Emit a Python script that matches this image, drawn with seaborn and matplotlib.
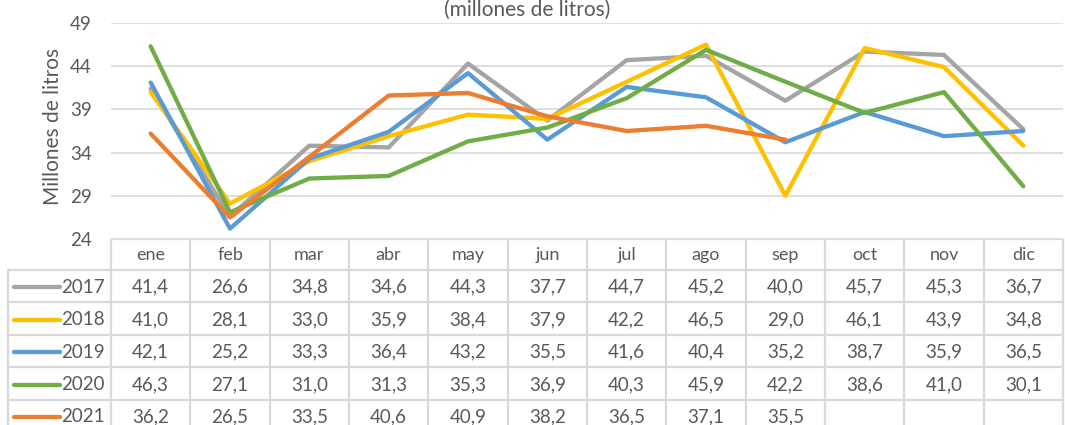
import numpy as np
import pandas as pd
import matplotlib
matplotlib.use('Agg')
import matplotlib.pyplot as plt
import seaborn as sns

# Datos (millones de litros)
meses = ['ene', 'feb', 'mar', 'abr', 'may', 'jun', 'jul', 'ago', 'sep', 'oct', 'nov', 'dic']
anios = ['2017', '2018', '2019', '2020', '2021']
v2017 = [41.4, 26.6, 34.8, 34.6, 44.3, 37.7, 44.7, 45.2, 40.0, 45.7, 45.3, 36.7]
v2018 = [41.0, 28.1, 33.0, 35.9, 38.4, 37.9, 42.2, 46.5, 29.0, 46.1, 43.9, 34.8]
v2019 = [42.1, 25.2, 33.3, 36.4, 43.2, 35.5, 41.6, 40.4, 35.2, 38.7, 35.9, 36.5]
v2020 = [46.3, 27.1, 31.0, 31.3, 35.3, 36.9, 40.3, 45.9, 42.2, 38.6, 41.0, 30.1]
v2021 = [36.2, 26.5, 33.5, 40.6, 40.9, 38.2, 36.5, 37.1, 35.5, np.nan, np.nan, np.nan]
yticks = [24, 29, 34, 39, 44, 49]
colores = ['#A5A5A5', '#FFC000', '#5B9BD5', '#70AD47', '#ED7D31']

series = [v2017, v2018, v2019, v2020, v2021]
df = pd.DataFrame({
    'mes': meses * len(anios),
    'x': list(range(len(meses))) * len(anios),
    'anio': [a for a in anios for _ in meses],
    'valor': [v for s in series for v in s],
})

sns.set_style('white')
plt.rcParams['font.family'] = ['Lato', 'DejaVu Sans']
gris = '#595959'
linea = '#D9D9D9'

W, H = 1065, 425
fig = plt.figure(figsize=(W / 100, H / 100), dpi=100)

# area del grafico (en pixeles de la figura)
x0, x1 = 111, 1063
ytop, ybot = 23, 239
ax = fig.add_axes([x0 / W, 1 - ybot / H, (x1 - x0) / W, (ybot - ytop) / H])
sns.lineplot(data=df.dropna(), x='x', y='valor', hue='anio', palette=colores,
             hue_order=anios, estimator=None, sort=False, linewidth=3.1,
             legend=False, ax=ax)
ax.set_xlim(-0.5, len(meses) - 0.5)
ax.set_ylim(yticks[0], yticks[-1])
ax.set_yticks(yticks)
ax.set_yticklabels([str(t) for t in yticks], fontsize=13.5, color=gris)
ax.set_xticks([])
ax.set_xlabel('')
ax.set_ylabel('Millones de litros', fontsize=15, color=gris)
ax.yaxis.set_label_coords(-48 / (x1 - x0), 0.52)
ax.tick_params(axis='y', length=0, pad=14)
ax.grid(axis='y', color=linea, linewidth=1.2)
ax.set_axisbelow(True)
for s in ax.spines.values():
    s.set_visible(False)

fig.text(0.495, 1.0, '(millones de litros)', ha='center', va='top',
         fontsize=15, color=gris)

# tabla de datos
tax = fig.add_axes([0, 0, 1, (H - ybot) / H])
tax.set_xlim(0, W)
tax.set_ylim(H, ybot)
tax.axis('off')
ancho = (x1 - x0) / len(meses)
filas = [ybot, 270, 302.5, 335, 367.5, 400, 432]
lw = 1.6
tax.plot([x0, x1], [filas[0], filas[0]], color=linea, lw=lw)
for y in filas[1:-1]:
    tax.plot([8, x1], [y, y], color=linea, lw=lw)
for k in range(len(meses) + 1):
    xx = x0 + k * ancho
    tax.plot([xx, xx], [filas[0], H], color=linea, lw=lw)
tax.plot([8, 8], [filas[1], H], color=linea, lw=lw)

for k, m in enumerate(meses):
    tax.text(x0 + (k + 0.5) * ancho, (filas[0] + filas[1]) / 2 + 1, m,
             ha='center', va='center', fontsize=13, color=gris)
for i, (a, s, c) in enumerate(zip(anios, series, colores)):
    yc = (filas[i + 1] + filas[i + 2]) / 2 + 1
    tax.plot([14, 60], [yc, yc], color=c, lw=3.1, solid_capstyle='round')
    tax.text(105, yc, a, ha='right', va='center', fontsize=13.5, color=gris)
    for k, v in enumerate(s):
        if not np.isnan(v):
            tax.text(x0 + (k + 0.5) * ancho, yc, f'{v:.1f}'.replace('.', ','),
                     ha='center', va='center', fontsize=13.5, color=gris)

fig.savefig('out.png', dpi=100)
